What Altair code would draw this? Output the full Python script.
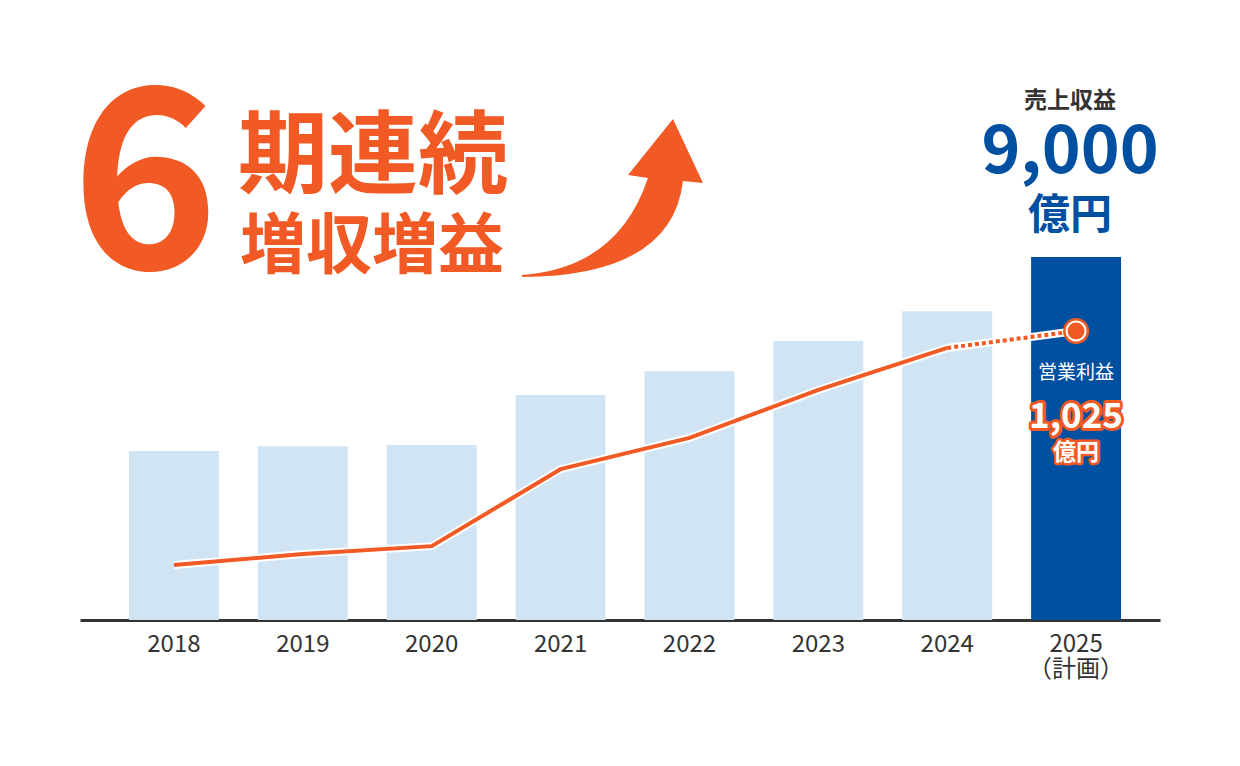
import altair as alt
import pandas as pd

# 売上収益 / 営業利益 (億円)
years = ["2018", "2019", "2020", "2021", "2022", "2023", "2024", "2025"]
revenue = [4190, 4310, 4340, 5580, 6170, 6920, 7660, 9000]
profit = [195, 234, 262, 535, 646, 816, 965, 1025]
highlight = [False, False, False, False, False, False, False, True]

ORANGE = "#F15A24"
BLUE = "#0050A2"
LIGHT = "#D1E4F4"
JP = "Noto Sans CJK JP"

W, H = 1080, 550
LEFT, TOP = 80, 70   # page position of the plot area

df = pd.DataFrame({"year": years, "revenue": revenue, "profit": profit, "plan": highlight})

x_enc = alt.X(
    "year:N",
    sort=years,
    title=None,
    scale=alt.Scale(paddingInner=0.302, paddingOuter=0.341, align=0.557),
    axis=alt.Axis(
        domainColor="#333333",
        domainWidth=3,
        ticks=False,
        labelAngle=0,
        labelFont=JP,
        labelFontSize=24,
        labelColor="#333333",
        labelPadding=12,
        labelLineHeight=25,
        labelExpr="datum.value == '2025' ? ['2025', '（計画）'] : datum.value",
    ),
)

rev_y = alt.Y("revenue:Q", scale=alt.Scale(domain=[0, 13640]), axis=None)
prof_y = alt.Y("profit:Q", scale=alt.Scale(domain=[0, 1951]), axis=None)

base = alt.Chart(df)

bars = base.mark_bar().encode(
    x=x_enc,
    y=rev_y,
    color=alt.Color("plan:N", scale=alt.Scale(domain=[False, True], range=[LIGHT, BLUE]), legend=None),
)

solid = base.transform_filter("datum.year <= '2024'")
dashed = base.transform_filter("datum.year >= '2024'")

solid_halo = solid.mark_line(color="white", strokeWidth=8).encode(x=x_enc, y=prof_y)
solid_line = solid.mark_line(color=ORANGE, strokeWidth=4).encode(x=x_enc, y=prof_y)
dash_halo = dashed.mark_line(color="white", strokeWidth=8).encode(x=x_enc, y=prof_y)
dash_line = dashed.mark_line(color=ORANGE, strokeWidth=4, strokeDash=[4, 3]).encode(x=x_enc, y=prof_y)

last = base.transform_filter("datum.year == '2025'")
dot_outer = last.mark_point(shape="circle", filled=True, opacity=1, color=ORANGE, size=676).encode(x=x_enc, y=prof_y)
dot_ring = last.mark_point(shape="circle", filled=True, opacity=1, color="white", size=441).encode(x=x_enc, y=prof_y)
dot_inner = last.mark_point(shape="circle", filled=True, opacity=1, color=ORANGE, size=289).encode(x=x_enc, y=prof_y)


def label(text, px, py, size, color, weight="bold", stroke=None, sw=0):
    props = dict(text=text, font=JP, fontSize=size, fontWeight=weight, color=color,
                 align="center", baseline="middle")
    if stroke:
        props.update(stroke=stroke, strokeWidth=sw, strokeJoin="round")
    return alt.Chart(alt.Data(values=[{}])).mark_text(**props).encode(
        x=alt.value(px - LEFT), y=alt.value(py - TOP)
    )


# curved arrow, path in symbol units
arrow_path = ("M -0.978 0.837 Q 0.065 0.761 0.391 -0.217 L 0.174 -0.25 L 0.663 -0.859 "
              "L 0.989 -0.163 L 0.772 -0.185 Q 0.652 0.848 -0.978 0.859 Z")
arrow = alt.Chart(alt.Data(values=[{}])).mark_point(
    shape=arrow_path, filled=True, opacity=1, color=ORANGE, size=33856, strokeWidth=0
).encode(x=alt.value(612 - LEFT), y=alt.value(198 - TOP))

texts = [
    label("6", 145, 194, 250, ORANGE),
    label("期連続", 373, 159, 90, ORANGE),
    label("増収増益", 372, 248, 66, ORANGE),
    label("売上収益", 1070, 101, 23, "#333333"),
    label("9,000", 1070, 153, 66, BLUE),
    label("億円", 1070, 216, 42, BLUE),
    label("営業利益", 1076, 373, 19, "white", weight="normal"),
    label("1,025", 1076, 417, 35, ORANGE, stroke=ORANGE, sw=6),
    label("1,025", 1076, 417, 35, "white"),
    label("億円", 1076, 453, 23, ORANGE, stroke=ORANGE, sw=5),
    label("億円", 1076, 453, 23, "white"),
]

chart = (
    alt.layer(bars, solid_halo, solid_line, dash_halo, dash_line,
              dot_outer, dot_ring, dot_inner, arrow, *texts)
    .resolve_scale(y="independent")
    .properties(
        width=W, height=H,
        autosize=alt.AutoSizeParams(type="none"),
        padding={"left": LEFT - 8, "top": TOP - 8, "right": 60, "bottom": 110},
    )
    .configure(background="white")
    .configure_view(stroke=None, strokeWidth=0)
)

chart.save("out.html", embed_options={"renderer": "svg", "actions": False})
